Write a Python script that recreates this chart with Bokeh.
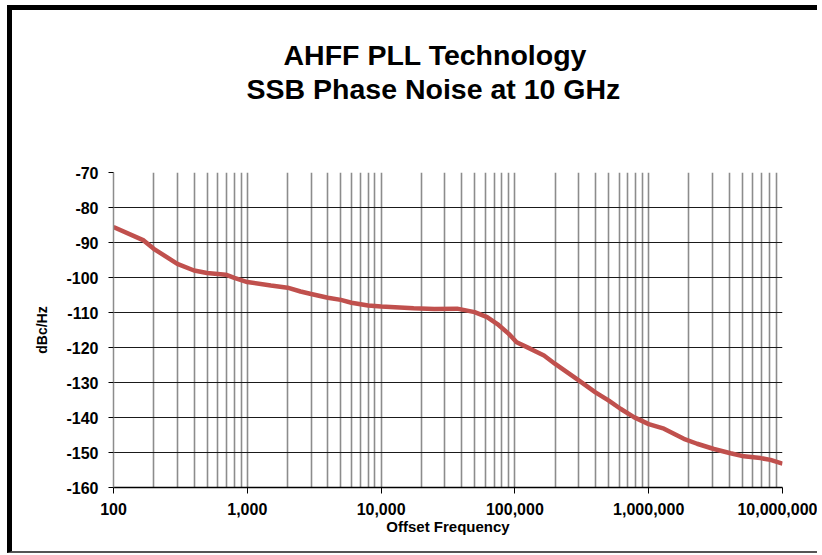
from bokeh.plotting import figure
from bokeh.models import Range1d, FixedTicker, NumeralTickFormatter, Title
from bokeh.embed import file_html
from bokeh.resources import INLINE

# Data
freq_hz = [100, 168, 200, 300, 400, 500, 690, 800, 1000, 1500, 2000, 2500, 3000,
           4000, 5000, 6000, 8000, 10000, 17500, 25000, 37000, 50000, 62000, 74000,
           90000, 103000, 131000, 165000, 200000, 300000, 400000, 500000, 615000,
           775000, 1000000, 1300000, 1830000, 2300000, 3070000, 4090000, 5140000,
           6850000, 8130000, 10000000]
phase_noise_dbc = [-85.6, -89.4, -91.8, -96.1, -98.0, -98.7, -99.2, -100.1, -101.3,
                   -102.3, -102.9, -104.0, -104.7, -105.8, -106.4, -107.2, -108.0,
                   -108.3, -108.8, -109.0, -108.9, -109.9, -111.3, -113.3, -116.1,
                   -118.5, -120.4, -122.3, -124.7, -129.4, -132.8, -135.1, -137.5,
                   -139.9, -141.9, -143.2, -146.1, -147.5, -149.0, -150.2, -151.1,
                   -151.6, -152.1, -153.2]

x_major_ticks = [100, 1000, 10000, 100000, 1000000, 10000000]
x_minor_ticks = [m * d for d in [100, 1000, 10000, 100000, 1000000] for m in range(2, 10)]
y_ticks = [-160, -150, -140, -130, -120, -110, -100, -90, -80, -70]
y_grid_ticks = [-160, -150, -140, -130, -120, -110, -100, -90, -80]

title_line1 = "AHFF PLL Technology"
title_line2 = "SSB Phase Noise at 10 GHz"
x_label = "Offset Frequency"
y_label = "dBc/Hz"

FONT = "Liberation Sans"
W, H = 810, 548

p = figure(width=W, height=H, x_axis_type="log", output_backend="svg",
           toolbar_location=None, title=None,
           x_range=Range1d(100, 10000000), y_range=Range1d(-160, -70),
           min_border_left=101, min_border_right=40,
           min_border_top=162, min_border_bottom=71)

p.styles = {"border-left": "5px solid black", "border-top": "5px solid black",
            "border-bottom": "2px solid #555555",
            "margin-left": "7px", "margin-top": "5px", "overflow": "hidden"}

p.outline_line_color = None
p.background_fill_color = "white"
p.border_fill_color = "white"

# invisible spacer between plot frame and the two title lines
spacer = Title(text=" ", text_font=FONT, text_font_size="10px", text_color="white",
               standoff=55)
t2 = Title(text=title_line2, align="left", offset=133, text_font=FONT,
           text_font_size="28.5px", text_font_style="bold", text_color="black", standoff=0)
t1 = Title(text=title_line1, align="left", offset=170, text_font=FONT,
           text_font_size="28.5px", text_font_style="bold", text_color="black", standoff=0)
p.add_layout(spacer, "above")
p.add_layout(t2, "above")
p.add_layout(t1, "above")

# x axis
p.xaxis.ticker = FixedTicker(ticks=x_major_ticks, minor_ticks=x_minor_ticks)
p.xaxis.formatter = NumeralTickFormatter(format="0,0")
p.xaxis.axis_label = x_label
p.xaxis.axis_label_text_font = FONT
p.xaxis.axis_label_text_font_size = "15px"
p.xaxis.axis_label_text_font_style = "bold"
p.xaxis.axis_label_text_color = "black"
p.xaxis.axis_label_standoff = 0
p.xaxis.major_label_text_font = FONT
p.xaxis.major_label_text_font_size = "16px"
p.xaxis.major_label_text_font_style = "bold"
p.xaxis.major_label_text_color = "black"
p.xaxis.major_label_standoff = 9
p.xaxis.axis_line_color = "black"
p.xaxis.axis_line_width = 1.5
p.xaxis.major_tick_line_color = "black"
p.xaxis.major_tick_out = 6
p.xaxis.major_tick_in = 0
p.xaxis.minor_tick_line_color = None

# y axis
p.yaxis.ticker = FixedTicker(ticks=y_ticks)
p.yaxis.major_label_overrides = {v: str(v) for v in y_ticks}
p.yaxis.axis_label = y_label
p.yaxis.axis_label_text_font = FONT
p.yaxis.axis_label_text_font_size = "14px"
p.yaxis.axis_label_text_font_style = "bold"
p.yaxis.axis_label_text_color = "black"
p.yaxis.axis_label_standoff = 13
p.yaxis.major_label_text_font = FONT
p.yaxis.major_label_text_font_size = "16px"
p.yaxis.major_label_text_font_style = "bold"
p.yaxis.major_label_text_color = "black"
p.yaxis.major_label_standoff = 10
p.yaxis.axis_line_color = "#8c8c8c"
p.yaxis.axis_line_width = 1.5
p.yaxis.major_tick_line_color = "black"
p.yaxis.major_tick_out = 5
p.yaxis.major_tick_in = 0
p.yaxis.minor_tick_line_color = None

# grids
p.xgrid.ticker = FixedTicker(ticks=x_major_ticks, minor_ticks=x_minor_ticks)
p.xgrid.grid_line_color = "#8c8c8c"
p.xgrid.grid_line_width = 1.6
p.xgrid.minor_grid_line_color = "#8c8c8c"
p.xgrid.minor_grid_line_width = 1.6
p.ygrid.ticker = FixedTicker(ticks=y_grid_ticks)
p.ygrid.grid_line_color = "#1a1a1a"
p.ygrid.grid_line_width = 1.2
p.ygrid.level = "underlay"

p.line(freq_hz, phase_noise_dbc, line_color="#C0504D", line_width=4.5)

open("out.html", "w").write(file_html(p, INLINE))
